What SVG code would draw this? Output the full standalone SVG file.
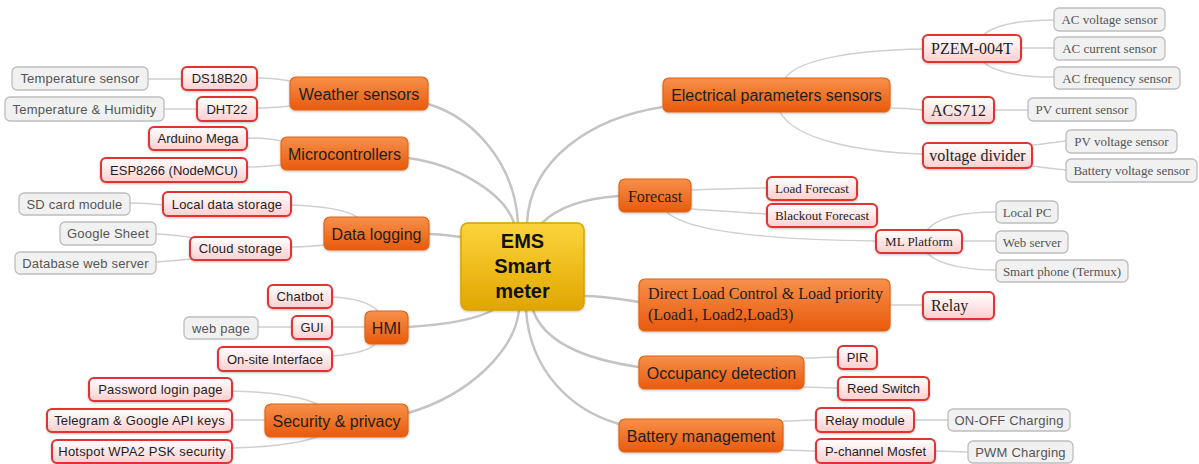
<svg xmlns="http://www.w3.org/2000/svg" width="1199" height="464" viewBox="0 0 1199 464">
  <defs>
    <linearGradient id="gCenter" x1="0" y1="0" x2="0" y2="1">
      <stop offset="0" stop-color="#fdd43c"/>
      <stop offset="1" stop-color="#e0a600"/>
    </linearGradient>
    <linearGradient id="gMain" x1="0" y1="0" x2="0" y2="1">
      <stop offset="0" stop-color="#f7904a"/>
      <stop offset="1" stop-color="#e95a0c"/>
    </linearGradient>
    <linearGradient id="gSub" x1="0" y1="0" x2="0" y2="1">
      <stop offset="0" stop-color="#ffffff"/>
      <stop offset="1" stop-color="#fbcfcf"/>
    </linearGradient>
    <filter id="shadow" x="-10%" y="-20%" width="120%" height="150%">
      <feDropShadow dx="0" dy="1" stdDeviation="0.8" flood-color="#000" flood-opacity="0.25"/>
    </filter>
  </defs>
  <style>
    .center { fill: url(#gCenter); stroke: #d8a200; stroke-width: 1.5; filter: url(#shadow); }
    .main { fill: url(#gMain); stroke: #e06414; stroke-width: 1.2; filter: url(#shadow); }
    .sub { fill: url(#gSub); stroke: #e23030; stroke-width: 2; filter: url(#shadow); }
    .leaf { fill: #f1f1f1; stroke: #bdbdbd; stroke-width: 1.3; }
    text { text-anchor: middle; fill: #1e1e1e; }
    .sans { font-family: "Liberation Sans", Arial, sans-serif; }
    .serif { font-family: "Liberation Serif", "Times New Roman", serif; }
    .big { font-size: 16px; }
    .small { font-size: 13px; }
    .grey { fill: #555555; }
    .ctext { font-family: "Liberation Sans", Arial, sans-serif; font-size: 20px; font-weight: bold; fill: #111; }
    .c1 { fill: none; stroke: #c4c4c4; stroke-width: 2.5; stroke-linecap: round; }
    .c2 { fill: none; stroke: #d0d0d0; stroke-width: 1.5; stroke-linecap: round; }
  </style>

  <rect width="1199" height="464" fill="#ffffff"/>

  <!-- connectors -->
  <g id="connectors">
    <!-- centre to main topics -->
    <path class="c1" d="M428,104 C475,118 515,165 518,223"/>
    <path class="c1" d="M408,158 C460,165 505,195 514,223"/>
    <path class="c1" d="M429,234 C445,234 450,236 461,237"/>
    <path class="c1" d="M408,327 C440,325 475,320 493,310"/>
    <path class="c1" d="M408,413 C470,395 515,350 519,310"/>
    <path class="c1" d="M527,223 C530,160 590,118 663,107"/>
    <path class="c1" d="M542,223 C560,205 590,198 619,196"/>
    <path class="c1" d="M584,296 C605,296 620,299 639,302"/>
    <path class="c1" d="M533,310 C545,345 590,360 639,367"/>
    <path class="c1" d="M526,310 C530,370 570,410 619,424"/>

    <!-- left branches -->
    <path class="c2" d="M257,78 C270,78 280,79 290,81"/>
    <path class="c2" d="M257,108 C270,108 280,107 290,106"/>
    <path class="c2" d="M148,79 L182,79"/>
    <path class="c2" d="M164,109 L197,109"/>
    <path class="c2" d="M247,138 C262,138 272,139 281,141"/>
    <path class="c2" d="M247,167 C262,167 272,166 281,165"/>
    <path class="c2" d="M291,205 C320,206 345,209 357,217"/>
    <path class="c2" d="M291,247 C305,247 315,246 324,245"/>
    <path class="c2" d="M130,203 C145,203 155,204 163,205"/>
    <path class="c2" d="M156,234 C175,235 185,236 192,238"/>
    <path class="c2" d="M156,262 C172,261 183,260 192,259"/>
    <path class="c2" d="M332,297 C355,298 370,303 378,311"/>
    <path class="c2" d="M332,327 L365,327"/>
    <path class="c2" d="M332,356 C355,354 370,350 375,344"/>
    <path class="c2" d="M258,327 L292,327"/>
    <path class="c2" d="M232,391 C270,392 300,396 317,404"/>
    <path class="c2" d="M232,420 L265,420"/>
    <path class="c2" d="M232,448 C270,447 300,443 317,437"/>

    <!-- right branches -->
    <path class="c2" d="M785,78 C800,58 860,50 923,49"/>
    <path class="c2" d="M890,108 C905,108 915,109 923,110"/>
    <path class="c2" d="M780,112 C795,140 860,152 923,154"/>
    <path class="c2" d="M983,35 C995,25 1020,20 1054,20"/>
    <path class="c2" d="M1021,48 L1054,48"/>
    <path class="c2" d="M983,62 C995,72 1020,77 1054,77"/>
    <path class="c2" d="M994,110 L1028,110"/>
    <path class="c2" d="M1032,145 C1045,144 1055,142 1066,141"/>
    <path class="c2" d="M1032,166 C1045,168 1055,169 1066,170"/>
    <path class="c2" d="M691,190 C720,189 745,188 767,188"/>
    <path class="c2" d="M691,209 C720,211 745,213 767,214"/>
    <path class="c2" d="M667,212 C690,235 800,240 876,241"/>
    <path class="c2" d="M927,230 C940,215 970,212 996,212"/>
    <path class="c2" d="M962,241 L996,241"/>
    <path class="c2" d="M927,253 C940,266 970,270 996,270"/>
    <path class="c2" d="M890,305 L923,305"/>
    <path class="c2" d="M804,358 C815,358 828,357 838,357"/>
    <path class="c2" d="M804,387 C815,387 828,388 838,388"/>
    <path class="c2" d="M783,421 C795,421 805,420 816,420"/>
    <path class="c2" d="M783,450 C795,450 805,451 816,451"/>
    <path class="c2" d="M914,420 L948,420"/>
    <path class="c2" d="M935,451 L968,452"/>
  </g>

  <!-- central topic -->
  <g id="ems">
    <rect class="center" x="461" y="223" width="123" height="87" rx="7"/>
    <text class="ctext" x="522.5" y="248">EMS</text>
    <text class="ctext" x="522.5" y="273">Smart</text>
    <text class="ctext" x="522.5" y="298">meter</text>
  </g>

  <!-- weather sensors -->
  <g id="weather">
    <rect class="main" x="290" y="77" width="138" height="33" rx="6"/>
    <text class="sans big" x="359" y="99.5">Weather sensors</text>
  </g>
  <g id="ds18b20">
    <rect class="sub" x="182" y="67" width="75" height="23" rx="5"/>
    <text class="sans small" x="219.5" y="83">DS18B20</text>
  </g>
  <g id="temp-sensor">
    <rect class="leaf" x="12" y="67" width="136" height="23" rx="5"/>
    <text class="sans small grey" x="80" y="83" letter-spacing="0.2">Temperature sensor</text>
  </g>
  <g id="dht22">
    <rect class="sub" x="197" y="97" width="60" height="24" rx="5"/>
    <text class="sans small" x="227" y="113.5">DHT22</text>
  </g>
  <g id="temp-humidity">
    <rect class="leaf" x="5" y="97" width="159" height="24" rx="5"/>
    <text class="sans small grey" x="84.5" y="113.5" letter-spacing="0.2">Temperature &amp; Humidity</text>
  </g>

  <!-- microcontrollers -->
  <g id="microcontrollers">
    <rect class="main" x="281" y="137" width="127" height="33" rx="6"/>
    <text class="sans big" x="344.5" y="159.5">Microcontrollers</text>
  </g>
  <g id="arduino">
    <rect class="sub" x="149" y="127" width="98" height="23" rx="5"/>
    <text class="sans small" x="198" y="143">Arduino Mega</text>
  </g>
  <g id="esp8266">
    <rect class="sub" x="101" y="158" width="146" height="24" rx="5"/>
    <text class="sans small" x="174" y="174.5">ESP8266 (NodeMCU)</text>
  </g>

  <!-- data logging -->
  <g id="data-logging">
    <rect class="main" x="324" y="217" width="105" height="33" rx="6"/>
    <text class="sans big" x="376.5" y="239.5">Data logging</text>
  </g>
  <g id="local-storage">
    <rect class="sub" x="163" y="192" width="128" height="24" rx="5"/>
    <text class="sans small" x="227" y="208.5" letter-spacing="0.2">Local data storage</text>
  </g>
  <g id="sd-card">
    <rect class="leaf" x="19" y="193" width="111" height="22" rx="5"/>
    <text class="sans small grey" x="74.5" y="208.5" letter-spacing="0.2">SD card module</text>
  </g>
  <g id="cloud-storage">
    <rect class="sub" x="190" y="237" width="101" height="23" rx="5"/>
    <text class="sans small" x="240.5" y="253" letter-spacing="0.2">Cloud storage</text>
  </g>
  <g id="google-sheet">
    <rect class="leaf" x="60" y="222" width="96" height="23" rx="5"/>
    <text class="sans small grey" x="108" y="238" letter-spacing="0.2">Google Sheet</text>
  </g>
  <g id="db-server">
    <rect class="leaf" x="15" y="252" width="141" height="22" rx="5"/>
    <text class="sans small grey" x="85.5" y="267.5" letter-spacing="0.2">Database web server</text>
  </g>

  <!-- HMI -->
  <g id="hmi">
    <rect class="main" x="365" y="311" width="43" height="33" rx="6"/>
    <text class="sans big" x="386.5" y="333.5">HMI</text>
  </g>
  <g id="chatbot">
    <rect class="sub" x="268" y="285" width="64" height="23" rx="5"/>
    <text class="sans small" x="300" y="301" letter-spacing="0.2">Chatbot</text>
  </g>
  <g id="gui">
    <rect class="sub" x="292" y="316" width="40" height="23" rx="5"/>
    <text class="sans small" x="312" y="332">GUI</text>
  </g>
  <g id="web-page">
    <rect class="leaf" x="184" y="317" width="74" height="22" rx="5"/>
    <text class="sans small grey" x="221" y="332.5" letter-spacing="0.2">web page</text>
  </g>
  <g id="onsite">
    <rect class="sub" x="218" y="347" width="114" height="24" rx="5"/>
    <text class="sans small" x="275" y="363.5">On-site Interface</text>
  </g>

  <!-- security -->
  <g id="security">
    <rect class="main" x="265" y="404" width="143" height="33" rx="6"/>
    <text class="sans big" x="336.5" y="426.5">Security &amp; privacy</text>
  </g>
  <g id="password">
    <rect class="sub" x="89" y="378" width="143" height="23" rx="5"/>
    <text class="sans small" x="160.5" y="394" letter-spacing="0.2">Password login page</text>
  </g>
  <g id="api-keys">
    <rect class="sub" x="47" y="409" width="185" height="23" rx="5"/>
    <text class="sans small" x="139.5" y="425" letter-spacing="0.2">Telegram &amp; Google API keys</text>
  </g>
  <g id="hotspot">
    <rect class="sub" x="52" y="440" width="180" height="23" rx="5"/>
    <text class="sans small" x="142" y="456" letter-spacing="0.2">Hotspot WPA2 PSK security</text>
  </g>

  <!-- electrical parameters -->
  <g id="electrical">
    <rect class="main" x="663" y="78" width="227" height="34" rx="6"/>
    <text class="sans big" x="776.5" y="101">Electrical parameters sensors</text>
  </g>
  <g id="pzem">
    <rect class="sub" x="923" y="35" width="98" height="27" rx="5"/>
    <text class="serif big" x="972" y="54">PZEM-004T</text>
  </g>
  <g id="ac-voltage">
    <rect class="leaf" x="1054" y="8" width="111" height="23" rx="5"/>
    <text class="serif small grey" x="1109.5" y="24">AC voltage sensor</text>
  </g>
  <g id="ac-current">
    <rect class="leaf" x="1054" y="37" width="111" height="23" rx="5"/>
    <text class="serif small grey" x="1109.5" y="53">AC current sensor</text>
  </g>
  <g id="ac-frequency">
    <rect class="leaf" x="1054" y="67" width="126" height="22" rx="5"/>
    <text class="serif small grey" x="1117" y="82.5">AC frequency sensor</text>
  </g>
  <g id="acs712">
    <rect class="sub" x="923" y="97" width="71" height="26" rx="5"/>
    <text class="serif big" x="958.5" y="115.5">ACS712</text>
  </g>
  <g id="pv-current">
    <rect class="leaf" x="1028" y="98" width="108" height="23" rx="5"/>
    <text class="serif small grey" x="1082" y="114">PV current sensor</text>
  </g>
  <g id="voltage-divider">
    <rect class="sub" x="923" y="143" width="109" height="25" rx="5"/>
    <text class="serif big" x="977.5" y="161">voltage divider</text>
  </g>
  <g id="pv-voltage">
    <rect class="leaf" x="1066" y="130" width="111" height="23" rx="5"/>
    <text class="serif small grey" x="1121.5" y="146">PV voltage sensor</text>
  </g>
  <g id="battery-voltage">
    <rect class="leaf" x="1066" y="159" width="131" height="23" rx="5"/>
    <text class="serif small grey" x="1131.5" y="175">Battery voltage sensor</text>
  </g>

  <!-- forecast -->
  <g id="forecast">
    <rect class="main" x="619" y="179" width="72" height="33" rx="6"/>
    <text class="serif big" x="655" y="201.5">Forecast</text>
  </g>
  <g id="load-forecast">
    <rect class="sub" x="767" y="177" width="90" height="23" rx="5"/>
    <text class="serif small" x="812" y="193">Load Forecast</text>
  </g>
  <g id="blackout-forecast">
    <rect class="sub" x="767" y="204" width="110" height="23" rx="5"/>
    <text class="serif small" x="822" y="220">Blackout Forecast</text>
  </g>
  <g id="ml-platform">
    <rect class="sub" x="876" y="230" width="86" height="23" rx="5"/>
    <text class="serif small" x="919" y="246">ML Platform</text>
  </g>
  <g id="local-pc">
    <rect class="leaf" x="996" y="201" width="62" height="22" rx="5"/>
    <text class="serif small grey" x="1027" y="216.5">Local PC</text>
  </g>
  <g id="web-server">
    <rect class="leaf" x="996" y="231" width="72" height="22" rx="5"/>
    <text class="serif small grey" x="1032" y="246.5">Web server</text>
  </g>
  <g id="smart-phone">
    <rect class="leaf" x="996" y="260" width="132" height="22" rx="5"/>
    <text class="serif small grey" x="1062" y="275.5">Smart phone (Termux)</text>
  </g>

  <!-- direct load control -->
  <g id="load-control">
    <rect class="main" x="639" y="279" width="251" height="52" rx="6"/>
    <text class="serif big" x="648" y="299" text-anchor="start" style="text-anchor:start">Direct Load Control &amp; Load priority</text>
    <text class="serif big" x="648" y="320" style="text-anchor:start">(Load1, Load2,Load3)</text>
  </g>
  <g id="relay">
    <rect class="sub" x="923" y="292" width="71" height="27" rx="5"/>
    <text class="serif big" x="931" y="311" style="text-anchor:start">Relay</text>
  </g>

  <!-- occupancy -->
  <g id="occupancy">
    <rect class="main" x="639" y="356" width="165" height="33" rx="6"/>
    <text class="sans big" x="721.5" y="378.5">Occupancy detection</text>
  </g>
  <g id="pir">
    <rect class="sub" x="838" y="346" width="39" height="23" rx="5"/>
    <text class="sans small" x="857.5" y="362">PIR</text>
  </g>
  <g id="reed-switch">
    <rect class="sub" x="838" y="377" width="91" height="23" rx="5"/>
    <text class="sans small" x="883.5" y="393">Reed Switch</text>
  </g>

  <!-- battery management -->
  <g id="battery">
    <rect class="main" x="619" y="419" width="164" height="33" rx="6"/>
    <text class="sans big" x="701" y="441.5">Battery management</text>
  </g>
  <g id="relay-module">
    <rect class="sub" x="816" y="408" width="98" height="24" rx="5"/>
    <text class="sans small" x="865" y="424.5">Relay module</text>
  </g>
  <g id="on-off">
    <rect class="leaf" x="948" y="409" width="122" height="22" rx="5"/>
    <text class="sans small grey" x="1009" y="424.5" letter-spacing="0.2">ON-OFF Charging</text>
  </g>
  <g id="mosfet">
    <rect class="sub" x="816" y="439" width="119" height="24" rx="5"/>
    <text class="sans small" x="875.5" y="455.5">P-channel Mosfet</text>
  </g>
  <g id="pwm">
    <rect class="leaf" x="968" y="441" width="105" height="22" rx="5"/>
    <text class="sans small grey" x="1020.5" y="456.5" letter-spacing="0.2">PWM Charging</text>
  </g>
</svg>
